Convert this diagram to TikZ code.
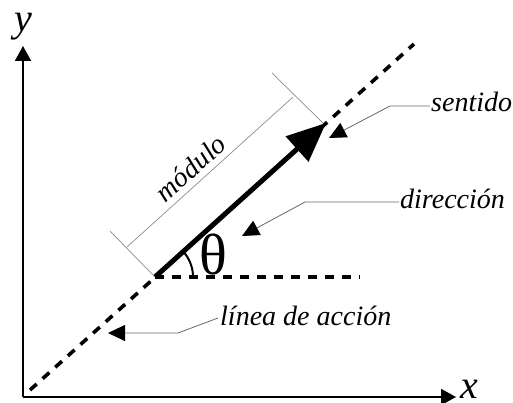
\documentclass[tikz,border=0pt]{standalone}
\usepackage{fontspec}
\setmainfont{Liberation Serif}
\usetikzlibrary{arrows.meta}
\begin{document}
\begin{tikzpicture}[x=1pt,y=-1pt,
  axis/.style={line width=1.8pt,-{Triangle[length=15pt,width=16pt]}},
  dashline/.style={line width=3.6pt,dash pattern=on 9pt off 8pt},
  vec/.style={line width=5pt,-{Triangle[length=39pt,width=33pt]}},
  dimline/.style={line width=0.7pt,draw=black!45},
  leader/.style={line width=0.8pt,draw=black!60,-{Triangle[length=17pt,width=16pt,color=black]}},
  lab/.style={font=\fontsize{28}{31}\selectfont\itshape,inner sep=0pt},
  axlab/.style={font=\fontsize{40}{44}\selectfont\itshape,inner sep=0pt}
]
\useasboundingbox (0,0) rectangle (513,403);
% points
\coordinate (O) at (155,277);
\coordinate (T) at (326,123);
\coordinate (A) at (30,390);
\coordinate (B) at (414,44);
\coordinate (H) at (360,277);
\coordinate (Yb) at (23,397);
\coordinate (Yt) at (23,46);
\coordinate (Xt) at (456,397);
% axes
\draw[axis] (Yb) -- (Yt);
\draw[axis] (Yb) -- (Xt);
\node[axlab] (ylab) at (23,27) {y};
\node[axlab] (xlab) at (469,389) {x};
% line of action and horizontal reference
\draw[dashline] (A) -- (B);
\draw[dashline] (O) -- (H);
% vector
\draw[vec] (O) -- (T);
% angle
\draw[line width=2pt] plot[domain=0:42,samples=25] ({155+38*cos(\x)},{277-38*sin(\x)});
\node[font=\fontsize{58}{60}\selectfont,inner sep=0pt] (theta) at (213,255) {θ};
% dimension (modulo)
\coordinate (e1a) at (110,231);
\coordinate (e1b) at (154,276);
\coordinate (e2a) at (272,73);
\coordinate (e2b) at (323,123);
\coordinate (d1) at (127,247);
\coordinate (d2) at (293,97);
\draw[dimline] (e1a) -- (e1b);
\draw[dimline] (e2a) -- (e2b);
\draw[dimline] (d1) -- (d2);
\node[lab,anchor=base,rotate=42] (modulo) at (197,175) {módulo};
% labels with leaders
\node[lab,anchor=base west] (sent) at (431,112) {sentido};
\node[lab,anchor=base west] (dir) at (400,208) {dirección};
\node[lab,anchor=base west] (lin) at (220,325) {línea de acción};
\coordinate (k1) at (390,106);
\coordinate (t1) at (329,138);
\coordinate (k2) at (305,202);
\coordinate (t2) at (242,236);
\coordinate (k3) at (178,333);
\coordinate (t3) at (108,333);
\draw[leader] ([shift={(-1,-6)}]sent.base west) -- (k1) -- (t1);
\draw[leader] ([shift={(-1,-6)}]dir.base west) -- (k2) -- (t2);
\draw[leader] ([shift={(-2,-7)}]lin.base west) -- (k3) -- (t3);
\end{tikzpicture}
\end{document}
